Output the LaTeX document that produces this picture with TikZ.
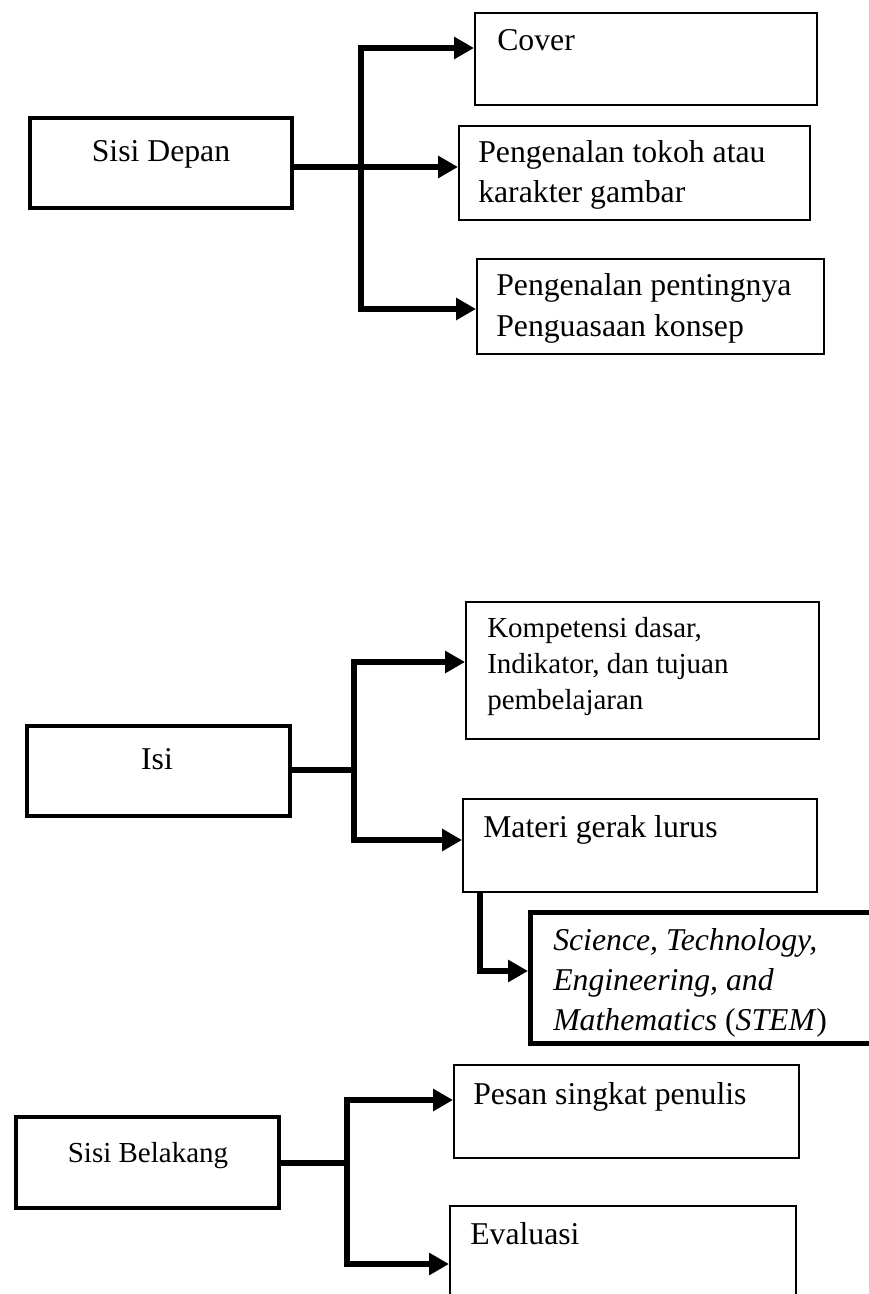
\documentclass[tikz,border=0pt]{standalone}
\usepackage{fontspec}
\setmainfont{Liberation Serif}
\usetikzlibrary{arrows.meta,fit}
\begin{document}
\begin{tikzpicture}[x=0.75pt,y=-0.75pt,
  thinbox/.style={draw, line width=1.5pt, inner sep=0pt},
  thickbox/.style={draw, line width=3.4pt, inner sep=0pt},
  txt/.style={anchor=base west, inner sep=0pt, font=\fontsize{23.8}{29}\selectfont},
  ctxt/.style={anchor=base, inner sep=0pt, font=\fontsize{23.8}{29}\selectfont},
  small/.style={font=\fontsize{21.75}{27}\selectfont},
  link/.style={line width=5pt, line join=miter},
  arrowlink/.style={link, -{Triangle[length=15pt,width=16pt]}}]
\useasboundingbox (0,0) rectangle (868,1294);
\fill[white] (0,0) rectangle (868,1294);

% boxes
\node[thinbox, fit={(475,13) (817,105)}] (cover) {};
\node[thickbox, fit={(30,118) (292,208)}] (sd) {};
\node[thinbox, fit={(459,126) (810,220)}] (tokoh) {};
\node[thinbox, fit={(477,259) (824,354)}] (penting) {};
\node[thinbox, fit={(466,602) (819,739)}] (komp) {};
\node[thickbox, line width=3pt, fit={(27,726) (290,816)}] (isi) {};
\node[thinbox, fit={(463,799) (817,892)}] (materi) {};
\node[thickbox, line width=3.75pt, fit={(530.5,912.5) (885,1043.5)}] (stem) {};
\node[thinbox, fit={(454,1065) (799,1158)}] (pesan) {};
\node[thickbox, line width=3pt, fit={(16,1117) (279,1208)}] (sb) {};
\node[thinbox, fit={(450,1206) (796,1320)}] (eval) {};

% texts
\node[txt] (tcover) at (497,51) {Cover};
\node[ctxt] (tsd) at (161,162) {Sisi Depan};
\node[txt] (ttok1) at (478,163) {Pengenalan tokoh atau};
\node[txt] (ttok2) at (478,203) {karakter gambar};
\node[txt] (tpen1) at (496,296) {Pengenalan pentingnya};
\node[txt] (tpen2) at (496,336) {Penguasaan konsep};
\node[txt,small] (tk1) at (487,637) {Kompetensi dasar,};
\node[txt,small] (tk2) at (487,673) {Indikator, dan tujuan};
\node[txt,small] (tk3) at (487,709) {pembelajaran};
\node[ctxt] (tisi) at (157,769) {Isi};
\node[txt] (tmat) at (483,837) {Materi gerak lurus};
\node[txt] (ts1) at (553,950) {\textit{Science, Technology,}};
\node[txt] (ts2) at (553,990) {\textit{Engineering, and}};
\node[txt] (ts3) at (553,1030) {\textit{Mathematics} (\textit{STEM})};
\node[txt] (tpes) at (473,1104) {Pesan singkat penulis};
\node[ctxt,small] (tsb) at (148,1162) {Sisi Belakang};
\node[txt] (tev) at (470,1244) {Evaluasi};

% connectors: Sisi Depan
\coordinate (ja) at (361,167);
\coordinate (a1) at (361,48);
\coordinate (a3) at (361,309);
\draw[arrowlink] (sd.east |- ja) -- (tokoh.west |- ja);
\draw[arrowlink] (ja) -- (a1) -- (cover.west |- a1);
\draw[arrowlink] (ja) -- (a3) -- (penting.west |- a3);

% connectors: Isi
\coordinate (jb) at (354,770);
\coordinate (b1) at (354,662);
\coordinate (b2) at (354,840);
\draw[link] (isi.east |- jb) -- (jb);
\draw[arrowlink] (jb) -- (b1) -- (komp.west |- b1);
\draw[arrowlink] (jb) -- (b2) -- (materi.west |- b2);

% Materi -> STEM
\coordinate (d1) at (480,971);
\draw[arrowlink] (materi.south -| d1) -- (d1) -- (stem.west |- d1);

% connectors: Sisi Belakang
\coordinate (jc) at (347,1163);
\coordinate (c1) at (347,1100);
\coordinate (c2) at (347,1264);
\draw[link] (sb.east |- jc) -- (jc);
\draw[arrowlink] (jc) -- (c1) -- (pesan.west |- c1);
\draw[arrowlink] (jc) -- (c2) -- (eval.west |- c2);
\end{tikzpicture}
\end{document}
